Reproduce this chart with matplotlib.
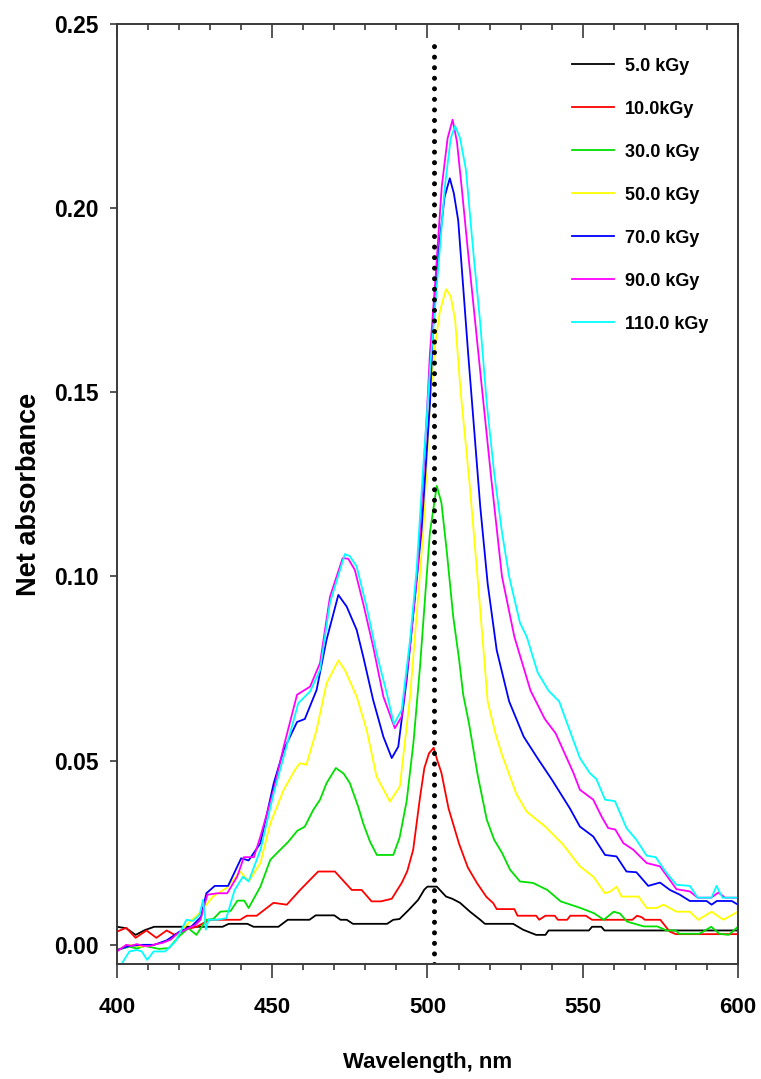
import numpy as np
import matplotlib.pyplot as plt
from matplotlib.ticker import MultipleLocator

plt.rcParams['font.family'] = ['Liberation Sans', 'DejaVu Sans']
plt.rcParams['font.weight'] = 'bold'

# Net absorbance spectra, one (wavelength, absorbance) list per dose
wl_5 = [400, 403, 406, 409, 412, 425, 434, 436, 442, 444, 452, 455, 462, 464, 470, 472, 474, 476,
        487, 489, 491, 494, 497, 499, 500, 503, 506, 508, 510.5, 513.7, 517, 518.5, 527.6, 530.8,
        535, 538, 539, 552, 553, 556, 557, 600]
abs_5 = [0.0049, 0.0045, 0.0027, 0.0040, 0.0049, 0.0049, 0.0049, 0.0057, 0.0057, 0.0049, 0.0049,
         0.0068, 0.0068, 0.0080, 0.0080, 0.0068, 0.0068, 0.0057, 0.0057, 0.0068, 0.0070, 0.0095,
         0.0122, 0.0150, 0.0158, 0.0158, 0.0131, 0.0125, 0.0114, 0.0090, 0.0068, 0.0057, 0.0057,
         0.0041, 0.0027, 0.0027, 0.0039, 0.0039, 0.0049, 0.0049, 0.0039, 0.0039]

wl_10 = [400, 403, 406, 409.5, 412.7, 416, 418.6, 422.4, 425.6, 430, 439.7, 441.8, 445, 450.4,
         454.7, 459, 464.8, 470.2, 475.6, 478.8, 482, 485, 488.5, 491.7, 493.5, 495.4, 497.6, 499,
         500.5, 502, 503.2, 504.5, 506.8, 510.2, 513, 516, 519, 521.2, 522.3, 528, 529, 535, 536,
         538, 541, 542, 545, 546, 551, 553, 566, 567.5, 569, 570, 575, 578, 580, 600]
abs_10 = [0.0036, 0.0046, 0.0019, 0.0039, 0.0019, 0.0039, 0.0027, 0.0042, 0.0049, 0.0068, 0.0068,
          0.0079, 0.0079, 0.0114, 0.0109, 0.0149, 0.0199, 0.0199, 0.0149, 0.0149, 0.0118, 0.0118,
          0.0125, 0.0168, 0.0200, 0.0258, 0.0400, 0.0480, 0.0520, 0.0535, 0.0500, 0.0467, 0.0370,
          0.0274, 0.0210, 0.0167, 0.0130, 0.0113, 0.0097, 0.0097, 0.0079, 0.0079, 0.0068, 0.0079,
          0.0079, 0.0068, 0.0068, 0.0079, 0.0079, 0.0068, 0.0068, 0.0079, 0.0075, 0.0068, 0.0068,
          0.0036, 0.0029, 0.0029]

wl_30 = [400, 404, 406.4, 409, 413.5, 416.7, 420, 423, 425.6, 428.8, 431, 433.3, 436.6, 438.8, 441,
         442.4, 446.2, 449.4, 455.2, 458, 460.5, 463.2, 465.4, 467.5, 470.5, 473, 475, 477.7, 479.3,
         481.5, 483.7, 489, 491, 493.3, 495.5, 497.6, 499.3, 500.8, 503, 504.5, 506.2, 508.3, 510.2,
         511.5, 513.4, 516.2, 519.1, 521.5, 524, 526.6, 529.8, 534, 538.6, 542.9, 549.3, 553.6,
         556.8, 560, 562, 564.3, 569.7, 574, 577, 580, 581, 587.6, 591.4, 594, 597, 600]
abs_30 = [-0.0014, -0.0005, -0.0010, -0.0003, -0.0011, -0.0009, 0.0023, 0.0045, 0.0027, 0.0068,
          0.0070, 0.0090, 0.0092, 0.0120, 0.0120, 0.0100, 0.0158, 0.0231, 0.0280, 0.0309, 0.0321,
          0.0366, 0.0394, 0.0439, 0.0480, 0.0465, 0.0439, 0.0375, 0.0330, 0.0280, 0.0244, 0.0244,
          0.0290, 0.0390, 0.0550, 0.0755, 0.0950, 0.1120, 0.1246, 0.1200, 0.1070, 0.0891, 0.0774,
          0.0680, 0.0600, 0.0460, 0.0340, 0.0285, 0.0250, 0.0204, 0.0172, 0.0168, 0.0149, 0.0118,
          0.0100, 0.0086, 0.0068, 0.0090, 0.0085, 0.0063, 0.0050, 0.0050, 0.0039, 0.0039, 0.0030,
          0.0030, 0.0049, 0.0030, 0.0027, 0.0049]

wl_50 = [400, 404, 408, 412, 416, 419, 423, 426.6, 430.9, 435.2, 439.7, 442.4, 446.2, 449.4, 453.7,
         457.3, 458.9, 461, 464.3, 467.5, 471.3, 473.4, 477.2, 480.4, 483.6, 487.9, 491.1, 494.4,
         497, 498.7, 500.8, 502.4, 504, 506, 507.5, 508.9, 510.7, 513.7, 516.6, 519.4, 522, 524,
         528.6, 532, 537.8, 543.6, 549.1, 553.4, 557.2, 559, 560.9, 562.5, 568, 570.6, 573.8, 576,
         580.2, 584.5, 587.2, 591.5, 595.3, 600]
abs_50 = [-0.0014, 0.0000, -0.0005, 0.0000, 0.0010, 0.0025, 0.0059, 0.0086, 0.0131, 0.0154, 0.0199,
          0.0172, 0.0222, 0.0330, 0.0421, 0.0475, 0.0493, 0.0489, 0.0584, 0.0710, 0.0772, 0.0746,
          0.0674, 0.0584, 0.0457, 0.0389, 0.0430, 0.0674, 0.0945, 0.1126, 0.1470, 0.1624, 0.1720,
          0.1780, 0.1760, 0.1697, 0.1500, 0.1240, 0.0950, 0.0660, 0.0570, 0.0516, 0.0410, 0.0361,
          0.0322, 0.0273, 0.0213, 0.0185, 0.0140, 0.0145, 0.0158, 0.0131, 0.0131, 0.0100, 0.0100,
          0.0109, 0.0090, 0.0090, 0.0068, 0.0090, 0.0068, 0.0090]

wl_70 = [400, 404, 408, 412, 416, 420, 424, 427, 428.8, 431.5, 435.8, 440, 442.4, 446.2, 450.5,
         453.7, 458, 460.5, 464.3, 467.5, 471.3, 474, 477.2, 479.3, 482.5, 485.8, 488.5, 490.6,
         493.3, 496, 498.1, 500.8, 501.9, 503.5, 505.5, 507.2, 508.5, 509.9, 511.5, 513.1, 514.8,
         517, 519.4, 522.3, 526.3, 531, 535.5, 540.1, 545.9, 549.1, 553.4, 557.2, 560.9, 564.1,
         567.3, 571.1, 574.9, 578.1, 581.3, 584.5, 589.9, 591.5, 593.2, 598, 600]
abs_70 = [-0.0014, -0.0003, 0.0000, 0.0000, 0.0012, 0.0035, 0.0050, 0.0075, 0.0140, 0.0160, 0.0160,
          0.0235, 0.0229, 0.0276, 0.0439, 0.0529, 0.0605, 0.0613, 0.0692, 0.0828, 0.0950, 0.0918,
          0.0855, 0.0783, 0.0665, 0.0565, 0.0507, 0.0538, 0.0719, 0.0945, 0.1126, 0.1470, 0.1697,
          0.1878, 0.2030, 0.2081, 0.2040, 0.1967, 0.1787, 0.1606, 0.1425, 0.1190, 0.0980, 0.0800,
          0.0661, 0.0565, 0.0506, 0.0448, 0.0370, 0.0321, 0.0294, 0.0244, 0.0240, 0.0199, 0.0197,
          0.0160, 0.0169, 0.0149, 0.0136, 0.0119, 0.0119, 0.0109, 0.0119, 0.0119, 0.0109]

wl_90 = [400, 403, 404.6, 406.4, 408.5, 410.8, 412.5, 414.6, 417.3, 419.4, 422.6, 425.3, 426.9,
         429.1, 432.3, 435.5, 438.7, 440.9, 444.1, 446.2, 450.5, 453.7, 458, 462.2, 465.4, 468.6,
         472.7, 474.5, 476.6, 479.3, 482.5, 485.8, 489.5, 491.7, 494.4, 497, 499.7, 500.8, 502.4,
         504.6, 506.5, 508.1, 509.5, 511, 513.1, 515.3, 517.5, 520.6, 524, 528, 533.2, 537.8, 541.3,
         547, 549.1, 553.4, 556.1, 558.2, 560.5, 563.1, 566.3, 570.6, 574.9, 580.2, 584.5, 587,
         591.4, 593.7, 595.9, 600]
abs_90 = [-0.0018, 0.0000, -0.0003, 0.0002, -0.0003, -0.0003, 0.0002, 0.0005, 0.0014, 0.0030,
          0.0043, 0.0054, 0.0068, 0.0136, 0.0140, 0.0140, 0.0185, 0.0238, 0.0238, 0.0294, 0.0421,
          0.0538, 0.0679, 0.0701, 0.0765, 0.0945, 0.1050, 0.1048, 0.1018, 0.0927, 0.0810, 0.0674,
          0.0588, 0.0620, 0.0810, 0.1036, 0.1425, 0.1606, 0.1787, 0.2058, 0.2190, 0.2240, 0.2180,
          0.2058, 0.1878, 0.1697, 0.1515, 0.1262, 0.1000, 0.0836, 0.0690, 0.0613, 0.0574, 0.0467,
          0.0421, 0.0394, 0.0348, 0.0317, 0.0313, 0.0276, 0.0258, 0.0222, 0.0213, 0.0151, 0.0145,
          0.0128, 0.0128, 0.0142, 0.0128, 0.0128]

wl_110 = [400, 402, 404, 406.4, 408, 409.7, 411.8, 415.5, 418.8, 422.4, 424.5, 426.6, 427.7, 428.3,
          428.6, 429.5, 432, 435.2, 437.9, 440.6, 442.4, 446.2, 450.5, 453.7, 458.4, 462.2, 465.4,
          468.6, 473.4, 475, 477.2, 480.4, 483.6, 486.9, 489.2, 491.7, 494.4, 496.5, 498.5, 500.8,
          503, 505.6, 507.5, 508.9, 510.5, 512.4, 514.8, 516.9, 519.1, 521.5, 524, 526.3, 529.8,
          532, 535.5, 539, 542.4, 547, 549.1, 552.3, 554.4, 557.2, 560.4, 564.1, 567.3, 570.6,
          573.5, 577, 580.2, 584.5, 587, 591.5, 593.1, 595, 600]
abs_110 = [-0.0075, -0.0045, -0.0018, -0.0014, -0.0018, -0.0041, -0.0018, -0.0018, 0.0009, 0.0068,
           0.0065, 0.0081, 0.0122, 0.0080, 0.0041, 0.0068, 0.0068, 0.0072, 0.0149, 0.0185, 0.0172,
           0.0258, 0.0412, 0.0511, 0.0656, 0.0688, 0.0746, 0.0928, 0.1061, 0.1055, 0.1027, 0.0918,
           0.0792, 0.0683, 0.0599, 0.0638, 0.0828, 0.1018, 0.1280, 0.1560, 0.1787, 0.2058, 0.2190,
           0.2223, 0.2190, 0.2104, 0.1878, 0.1697, 0.1470, 0.1280, 0.1120, 0.1000, 0.0874, 0.0836,
           0.0739, 0.0690, 0.0661, 0.0555, 0.0507, 0.0466, 0.0450, 0.0394, 0.0390, 0.0317, 0.0285,
           0.0242, 0.0238, 0.0195, 0.0163, 0.0160, 0.0128, 0.0128, 0.0160, 0.0128, 0.0128]

labels = ['5.0 kGy', '10.0kGy', '30.0 kGy', '50.0 kGy', '70.0 kGy', '90.0 kGy', '110.0 kGy']
colors = ['black', 'red', '#00e000', 'yellow', 'blue', 'magenta', 'cyan']
wavelengths = [wl_5, wl_10, wl_30, wl_50, wl_70, wl_90, wl_110]
absorbances = [abs_5, abs_10, abs_30, abs_50, abs_70, abs_90, abs_110]

peak_wavelength = 502

fig = plt.figure(figsize=(7.61, 10.79), dpi=100)
ax = fig.add_axes([0.1537, 0.1066, 0.816, 0.8712])

for wl, a, lab, c in zip(wavelengths, absorbances, labels, colors):
    ax.plot(wl, a, color=c, lw=1.3, label=lab)

# dotted marker line at the main band position
ax.vlines(peak_wavelength, -0.0052, 0.245, colors='black', lw=3.6,
          linestyles=[(0, (0.01, 2.1))], capstyle='round')

ax.set_xlim(400, 600)
ax.set_ylim(-0.0052, 0.25)
ax.xaxis.set_major_locator(MultipleLocator(50))
ax.xaxis.set_minor_locator(MultipleLocator(10))
ax.yaxis.set_major_locator(MultipleLocator(0.05))
ax.yaxis.set_major_formatter(plt.FormatStrFormatter('%.2f'))

for s in ax.spines.values():
    s.set_color('#3a3a3a')
    s.set_linewidth(1.4)

ax.tick_params(axis='x', which='major', direction='out', length=10, width=1.2, pad=14,
               labelsize=16, color='#3a3a3a')
ax.tick_params(axis='x', which='minor', direction='out', length=4, width=1.2, color='#3a3a3a')
ax.tick_params(axis='y', which='major', direction='out', length=5, width=1.2, pad=8,
               labelsize=16.5, color='#3a3a3a')

# inward ticks along the top edge
top = ax.secondary_xaxis('top')
top.xaxis.set_major_locator(MultipleLocator(50))
top.xaxis.set_minor_locator(MultipleLocator(10))
top.tick_params(which='major', direction='in', length=10, width=1.2, labeltop=False, color='#3a3a3a')
top.tick_params(which='minor', direction='in', length=4, width=1.2, color='#3a3a3a')
top.spines['top'].set_visible(False)

ax.set_xlabel('Wavelength, nm', fontsize=16, fontweight='bold', labelpad=24)
ax.set_ylabel('Net absorbance', fontsize=19.5, fontweight='bold', labelpad=9)

leg = ax.legend(loc='upper left', bbox_to_anchor=(0.733, 0.964), frameon=False, fontsize=13,
                handlelength=2.3, handletextpad=0.6, labelspacing=1.44, borderpad=0,
                borderaxespad=0)
for t in leg.get_texts():
    t.set_fontweight('bold')

fig.savefig('out.png', dpi=100)
